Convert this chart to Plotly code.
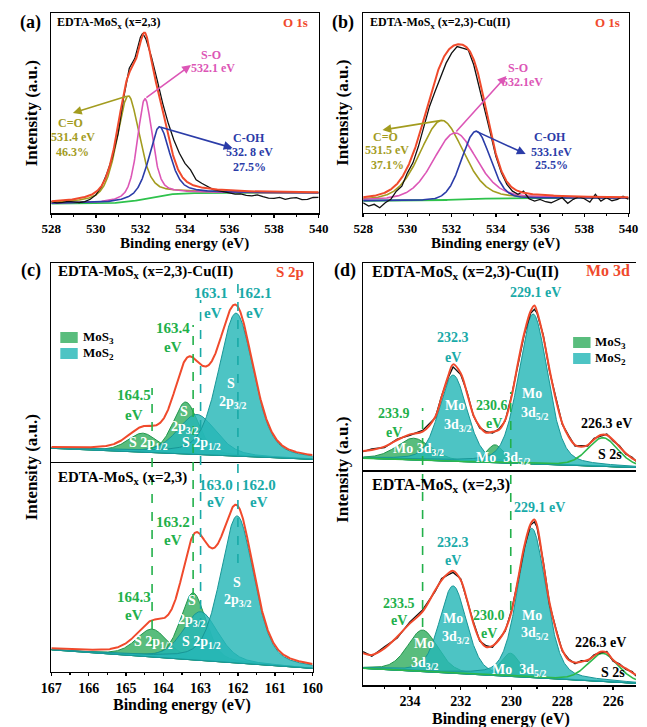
import numpy as np
import plotly.graph_objects as go

W, H = 647, 727
FONT = "Liberation Serif"

# ---------------- DATA ----------------
# (a) O 1s, EDTA-MoSx (x=2,3): fitted components
a_center = [531.45, 532.2, 532.85]      # C=O, S-O, C-OH
a_height = [53.0, 50.0, 34.5]
a_fwhm = [1.2, 0.8, 1.1]
a_eta = [0.5, 0.5, 0.5]
a_bg = [4.8, 10.2, 532.3, 0.55]          # low, high, step centre, step width
a_meas_E = [528.0, 528.25, 528.5, 528.75, 529.0, 529.25, 529.5, 529.75, 530.0, 530.25,
            530.5, 530.75, 531.0, 531.25, 531.5, 531.75, 532.0, 532.1, 532.25, 532.5,
            532.75, 533.0, 533.25, 533.5, 533.75, 534.0, 534.25, 534.5, 534.75, 535.0,
            535.25, 535.5, 535.75, 536.0, 536.25, 536.5, 536.75, 537.0, 537.25, 537.5,
            537.75, 538.0, 538.25, 538.5, 538.75, 539.0, 539.25, 539.5, 539.75, 540.0]
a_meas_I = [5.8, 5.2, 5.5, 6.0, 5.7, 5.4, 5.8, 7.0, 9.2, 13.3,
            20.0, 28.3, 40.0, 58.0, 72.5, 77.5, 88.0, 90.0, 87.0, 78.0,
            66.7, 55.0, 45.0, 36.7, 30.0, 25.0, 21.7, 16.7, 15.0, 13.3,
            12.0, 11.3, 10.8, 10.3, 9.6, 9.7, 9.0, 8.7, 9.2, 8.3,
            7.6, 7.5, 8.0, 7.0, 7.6, 7.8, 6.8, 7.0, 7.9, 8.0]

# (b) O 1s, EDTA-MoSx (x=2,3)-Cu(II)
b_center = [531.55, 532.15, 533.1]
b_height = [40.0, 33.5, 34.0]
b_fwhm = [2.3, 2.3, 1.5]
b_eta = [0.25, 0.3, 0.1]
b_bg = [6.0, 7.3, 532.5, 0.8]
b_meas_E = [528.0, 528.25, 528.5, 528.75, 529.0, 529.25, 529.5, 529.75, 530.0, 530.25,
            530.5, 530.75, 531.0, 531.25, 531.5, 531.75, 532.0, 532.25, 532.5, 532.75,
            533.0, 533.25, 533.5, 533.75, 534.0, 534.25, 534.5, 534.75, 535.0, 535.25,
            535.5, 535.75, 536.0, 536.25, 536.5, 536.75, 537.0, 537.25, 537.5, 537.75,
            538.0, 538.25, 538.5, 538.75, 539.0, 539.25, 539.5, 539.75, 540.0]
b_meas_I = [5.0, 3.3, 4.2, 2.5, 5.0, 6.7, 10.8, 13.3, 20.0, 25.0,
            33.3, 43.3, 53.3, 60.8, 67.5, 75.0, 80.0, 83.3, 82.5, 81.7,
            74.2, 63.3, 51.7, 40.0, 28.3, 20.0, 14.2, 10.8, 9.2, 10.8,
            7.0, 5.8, 6.7, 5.5, 5.0, 6.2, 7.5, 4.7, 6.7, 8.0,
            7.0, 5.3, 9.2, 5.8, 7.5, 6.0, 6.7, 8.3, 6.7]

# (c) S 2p  (baseline values at 167 eV and 160 eV)
c_up_base = [7.5, 2.0]
c_up_mos3_center = [164.55, 163.4]
c_up_mos3_height = [9.5, 26.0]
c_up_mos3_fwhm = [0.95, 0.8]
c_up_mos2_center = [163.1, 162.05]
c_up_mos2_height = [20.0, 71.5]
c_up_mos2_fwhm = [1.2, 1.1]
c_lo_base = [10.5, 1.6]
c_lo_mos3_center = [164.3, 163.2]
c_lo_mos3_height = [13.4, 32.2]
c_lo_mos3_fwhm = [1.0, 0.8]
c_lo_mos2_center = [163.0, 162.02]
c_lo_mos2_height = [23.4, 70.6]
c_lo_mos2_fwhm = [1.1, 1.05]
c_eta = 0.35

# (d) Mo 3d (baseline values at left and right ends)
d_up_base = [6.5, 2.0]
d_up_mos3_center = [233.85, 230.65]
d_up_mos3_height = [10.4, 8.6]
d_up_mos3_fwhm = [1.6, 0.8]
d_up_mos2_center = [232.3, 229.15]
d_up_mos2_height = [41.4, 72.0]
d_up_mos2_fwhm = [1.3, 1.35]
d_up_s2s = [226.4, 13.8, 1.4]
d_lo_base = [7.8, 0.8]
d_lo_mos3_center = [233.5, 230.05]
d_lo_mos3_height = [19.5, 10.9]
d_lo_mos3_fwhm = [1.4, 0.9]
d_lo_mos2_center = [232.3, 229.2]
d_lo_mos2_height = [41.0, 70.0]
d_lo_mos2_fwhm = [1.25, 1.3]
d_lo_s2s = [226.4, 13.2, 1.4]
d_eta = 0.3
d_E = [235.85, 235.5, 235.0, 234.5, 234.0, 233.5, 233.0, 232.75, 232.5, 232.3,
       232.0, 231.75, 231.5, 231.25, 231.0, 230.75, 230.5, 230.25, 230.0, 229.75,
       229.5, 229.25, 229.1, 229.0, 228.75, 228.5, 228.25, 228.0, 227.75, 227.5,
       227.25, 227.0, 226.75, 226.5, 226.25, 226.0, 225.75, 225.5, 225.25, 225.1]
d_up_fit = [9.9, 10.4, 12.0, 15.2, 17.9, 19.2, 26.4, 35.9, 45.6, 51.5,
            47.2, 37.6, 27.2, 21.6, 18.7, 19.2, 20.0, 24.8, 35.9, 52.0,
            66.4, 77.0, 79.8, 77.0, 64.8, 48.8, 34.4, 23.2, 16.8, 12.8,
            12.0, 12.8, 15.5, 17.6, 17.6, 15.2, 12.0, 8.8, 6.4, 5.3]
d_up_meas = [9.6, 10.9, 11.6, 15.6, 17.5, 19.8, 25.9, 36.4, 45.0, 50.3,
             46.6, 38.2, 26.8, 21.0, 19.2, 18.6, 20.4, 24.3, 36.4, 51.4,
             65.8, 76.0, 77.9, 76.2, 65.5, 48.0, 34.9, 22.7, 17.3, 12.3,
             12.5, 12.3, 16.0, 17.0, 18.1, 14.7, 12.4, 8.4, 6.9, 5.0]
d_lo_fit = [14.9, 14.1, 17.2, 22.6, 28.9, 34.4, 44.5, 49.2, 52.3, 53.5,
            49.2, 39.8, 28.9, 21.1, 17.8, 18.3, 21.1, 25.8, 34.4, 49.2,
            64.9, 75.5, 77.6, 75.0, 57.1, 38.3, 25.8, 16.4, 11.7, 10.5,
            10.9, 11.7, 13.6, 15.6, 15.2, 11.7, 9.4, 7.8, 5.8, 4.7]
d_lo_meas = [15.6, 13.5, 17.9, 22.0, 29.6, 35.2, 44.0, 49.9, 51.6, 52.8,
             49.8, 39.2, 29.5, 20.6, 18.4, 17.7, 21.6, 25.2, 35.0, 48.6,
             64.2, 75.0, 76.5, 74.2, 57.8, 37.7, 26.3, 15.9, 12.2, 10.0,
             11.4, 11.2, 14.1, 15.1, 15.7, 11.2, 9.9, 7.3, 6.3, 4.2]

# ---------------- STYLE ----------------
RED = "#f04a2c"
OLIVE = "#a39c1f"
MAGENTA = "#dc56b6"
BLUE = "#2b3ca8"
BGGREEN = "#2ec24c"
G_FILL = "rgba(48,172,92,0.80)"
G_LINE = "rgb(34,150,76)"
T_FILL = "rgba(38,183,183,0.82)"
T_LINE = "rgb(24,150,150)"
G_TXT = "#22b04a"
T_TXT = "#19aaa8"

# panel frames in pixels: x0, x1, y0(top), y1(bottom), xrange
P = {
    "a": (42.7, 319.0, 13.3, 213.3, [528, 540]),
    "b": (365.0, 639.3, 13.3, 212.7, [528, 540]),
    "c1": (42.7, 312.7, 263.3, 463.3, [167, 160]),
    "c2": (42.7, 312.7, 463.3, 671.7, [167, 160]),
    "d1": (365.0, 647.0, 263.3, 471.7, [235.84, 225.1]),
    "d2": (365.0, 647.0, 471.7, 685.0, [235.84, 225.1]),
}
AX = {"a": ("x", "y"), "b": ("x2", "y2"), "c1": ("x3", "y3"),
      "c2": ("x4", "y4"), "d1": ("x5", "y5"), "d2": ("x6", "y6")}


def pv(E, c, h, w, eta):
    u = (E - c) / w
    return h * ((1 - eta) * np.exp(-4 * np.log(2) * u * u) + eta / (1 + 4 * u * u))


def step_bg(E, p):
    lo, hi, c, w = p
    return lo + (hi - lo) / (1 + np.exp(-(E - c) / w))


def lin_base(E, rng, vals):
    return vals[1] + (vals[0] - vals[1]) * (E - rng[1]) / (rng[0] - rng[1])


def px2data(key, px, py):
    x0, x1, y0, y1, r = P[key]
    return r[0] + (px - x0) / (x1 - x0) * (r[1] - r[0]), (y1 - py) / (y1 - y0) * 100


fig = go.Figure()


def line(key, x, y, color, width, shape="linear", dash=None):
    xa, ya = AX[key]
    fig.add_trace(go.Scatter(x=x, y=y, mode="lines", xaxis=xa, yaxis=ya,
                             line=dict(color=color, width=width, shape=shape, dash=dash),
                             hoverinfo="skip"))


def filled(key, E, top, base, fc, lc):
    xa, ya = AX[key]
    fig.add_trace(go.Scatter(x=np.concatenate([E, E[::-1]]),
                             y=np.concatenate([top, base[::-1]]),
                             mode="lines", fill="toself", fillcolor=fc,
                             line=dict(color=lc, width=1), xaxis=xa, yaxis=ya,
                             hoverinfo="skip"))


# ---- O 1s panels ----
def o1s(key, cen, hei, fw, eta, bgp, mE, mI):
    r = P[key][4]
    E = np.linspace(r[0], r[1], 700)
    bg = step_bg(E, bgp)
    comps = [pv(E, c, h, w, e) for c, h, w, e in zip(cen, hei, fw, eta)]
    line(key, E, bg, BGGREEN, 1.8)
    for comp, col in zip(comps, [OLIVE, MAGENTA, BLUE]):
        line(key, E, bg + comp, col, 1.6)
    line(key, mE, mI, "#111111", 1.3)
    line(key, E, bg + sum(comps), RED, 2.0)


o1s("a", a_center, a_height, a_fwhm, a_eta, a_bg, a_meas_E, a_meas_I)
o1s("b", b_center, b_height, b_fwhm, b_eta, b_bg, b_meas_E, b_meas_I)


# ---- S 2p panels ----
def s2p(key, base_v, c3, h3, w3, c2, h2, w2):
    r = P[key][4]
    E = np.linspace(r[0], r[1], 700)
    base = lin_base(E, r, base_v)
    total = base.copy()
    for c, h, w in zip(c3, h3, w3):
        comp = pv(E, c, h, w, c_eta)
        filled(key, E, base + comp, base, G_FILL, G_LINE)
        total = total + comp
    for c, h, w in zip(c2, h2, w2):
        comp = pv(E, c, h, w, c_eta)
        filled(key, E, base + comp, base, T_FILL, T_LINE)
        total = total + comp
    line(key, E, total, RED, 2.0)


s2p("c1", c_up_base, c_up_mos3_center, c_up_mos3_height, c_up_mos3_fwhm,
    c_up_mos2_center, c_up_mos2_height, c_up_mos2_fwhm)
s2p("c2", c_lo_base, c_lo_mos3_center, c_lo_mos3_height, c_lo_mos3_fwhm,
    c_lo_mos2_center, c_lo_mos2_height, c_lo_mos2_fwhm)


# ---- Mo 3d panels ----
def mo3d(key, base_v, c3, h3, w3, c2, h2, w2, s2s, meas, fit):
    r = P[key][4]
    E = np.linspace(r[0], r[1], 700)
    base = lin_base(E, r, base_v)
    for c, h, w in zip(c3, h3, w3):
        filled(key, E, base + pv(E, c, h, w, d_eta), base, G_FILL, G_LINE)
    for c, h, w in zip(c2, h2, w2):
        filled(key, E, base + pv(E, c, h, w, d_eta), base, T_FILL, T_LINE)
    line(key, E, base + pv(E, s2s[0], s2s[1], s2s[2], d_eta), "#2db84a", 1.6)
    line(key, d_E, meas, "#111111", 1.4)
    line(key, d_E, fit, RED, 2.0, shape="spline")


mo3d("d1", d_up_base, d_up_mos3_center, d_up_mos3_height, d_up_mos3_fwhm,
     d_up_mos2_center, d_up_mos2_height, d_up_mos2_fwhm, d_up_s2s, d_up_meas, d_up_fit)
mo3d("d2", d_lo_base, d_lo_mos3_center, d_lo_mos3_height, d_lo_mos3_fwhm,
     d_lo_mos2_center, d_lo_mos2_height, d_lo_mos2_fwhm, d_lo_s2s, d_lo_meas, d_lo_fit)

# ---------------- AXES ----------------
TICKS = {"a": (2, 528, 1), "b": (2, 528, 1), "c2": (1, 160, 0.5), "d2": (2, 226, 1)}
layout_axes = {}
for key, (x0, x1, y0, y1, r) in P.items():
    xa, ya = AX[key]
    xname = "xaxis" + xa[1:]
    yname = "yaxis" + ya[1:]
    labels = key in TICKS
    upper = key in ("c1", "d1")
    xd = dict(domain=[x0 / W, min(x1 / W, 1.0)], range=r, anchor=ya,
              showline=True, linecolor="black", linewidth=1.5,
              mirror=not upper, side="top" if upper else "bottom",
              showgrid=False, zeroline=False, fixedrange=True,
              showticklabels=labels, ticks="outside" if labels else "")
    if labels:
        dt, t0, mdt = TICKS[key]
        xd.update(dtick=dt, tick0=t0, ticklen=3, tickwidth=1.5, tickcolor="black",
                  tickfont=dict(family=FONT, size=13 if key in ("a", "b") else 14,
                                color="black", weight="bold"),
                  minor=dict(ticks="outside", dtick=mdt, tick0=t0, ticklen=2,
                             tickwidth=1.2, tickcolor="black"))
    yd = dict(domain=[1 - y1 / H, 1 - y0 / H], range=[0, 100], anchor=xa,
              showline=True, linecolor="black", linewidth=1.5,
              mirror=not key.startswith("d"),
              showgrid=False, zeroline=False, showticklabels=False, ticks="",
              fixedrange=True)
    layout_axes[xname] = xd
    layout_axes[yname] = yd

# ---------------- TEXT ----------------
ann = []


def txt(px, py, s, color="black", size=12, xanchor="center", angle=0):
    ann.append(dict(x=px / W, y=1 - py / H, xref="paper", yref="paper", text=s,
                    showarrow=False, xanchor=xanchor, yanchor="middle", textangle=angle,
                    font=dict(family=FONT, size=size, color=color, weight="bold")))


def arrow(key, head_px, tail_E, tail_v, color):
    xa, ya = AX[key]
    hx, hy = px2data(key, *head_px)
    ann.append(dict(x=hx, y=hy, xref=xa, yref=ya, ax=tail_E, ay=tail_v,
                    axref=xa, ayref=ya, text="", showarrow=True, arrowhead=2,
                    arrowsize=1.1, arrowwidth=1.6, arrowcolor=color,
                    standoff=0, startstandoff=0))


# panel letters
for s, x, y in [("(a)", 21, 22), ("(b)", 344, 22), ("(c)", 22, 270), ("(d)", 346, 270)]:
    txt(x, y, s, size=18)

# axis titles
for x, y in [(22, 113), (343, 113), (22, 467), (343, 470)]:
    txt(x, y, "Intensity (a.u.)", size=17, angle=-90)
for x, y in [(180, 244), (502, 244)]:
    txt(x, y, "Binding energy (eV)", size=15)
for x, y in [(178, 705), (507, 719)]:
    txt(x, y, "Binding energy (eV)", size=16)

# (a)
OS = 12
txt(47, 23, "EDTA-MoS<sub>x</sub> (x=2,3)", size=12, xanchor="left")
txt(310, 23, "O 1s", RED, 13, xanchor="right")
txt(208, 55, "S-O", MAGENTA, OS)
txt(210, 68, "532.1 eV", MAGENTA, OS)
txt(63, 123, "C=O", OLIVE, OS)
txt(65, 137, "531.4 eV", OLIVE, OS)
txt(65, 152, "46.3%", OLIVE, OS)
txt(247, 138, "C-OH", BLUE, OS)
txt(248, 152, "532. 8 eV", BLUE, OS)
txt(248, 167, "27.5%", BLUE, OS)
a_bgfun = lambda e: step_bg(np.array(e), a_bg)
arrow("a", (187, 65), a_center[1], float(a_bgfun(a_center[1])) + a_height[1], MAGENTA)
arrow("a", (65, 113), a_center[0], float(a_bgfun(a_center[0])) + a_height[0], OLIVE)
arrow("a", (230, 148), a_center[2], float(a_bgfun(a_center[2])) + a_height[2], BLUE)

# (b)
txt(370, 23, "EDTA-MoS<sub>x</sub> (x=2,3)-Cu(II)", size=12, xanchor="left")
txt(633, 23, "O 1s", RED, 13, xanchor="right")
txt(525, 68, "S-O", MAGENTA, OS)
txt(530, 82, "532.1eV", MAGENTA, OS)
txt(388, 137, "C=O", OLIVE, OS)
txt(390, 150, "531.5 eV", OLIVE, OS)
txt(390, 165, "37.1%", OLIVE, OS)
txt(558, 137, "C-OH", BLUE, OS)
txt(560, 152, "533.1eV", BLUE, OS)
txt(560, 165, "25.5%", BLUE, OS)
b_bgfun = lambda e: step_bg(np.array(e), b_bg)
arrow("b", (513, 76), b_center[1], float(b_bgfun(b_center[1])) + b_height[1], MAGENTA)
arrow("b", (385, 130), b_center[0], float(b_bgfun(b_center[0])) + b_height[0], OLIVE)
arrow("b", (533, 154), b_center[2], float(b_bgfun(b_center[2])) + b_height[2], BLUE)

# (c) upper
CS = 15
txt(48, 272, "EDTA-MoS<sub>x</sub> (x=2,3)-Cu(II)", size=15, xanchor="left")
txt(306, 272, "S 2p", RED, 15, xanchor="right")
for x, y, s in [(208, 293, "163.1"), (210, 313, "eV"), (253, 293, "162.1"), (253, 313, "eV")]:
    txt(x, y, s, T_TXT, CS)
for x, y, s in [(168, 328, "163.4"), (168, 347, "eV"), (128, 395, "164.5"), (128, 415, "eV")]:
    txt(x, y, s, G_TXT, CS)
txt(228, 383, "S", "white", 14)
txt(230, 402, "2p<sub>3/2</sub>", "white", 14)
txt(180, 411, "S", "white", 14)
txt(180, 428, "2p<sub>3/2</sub>", "white", 14)
txt(143, 443, "S 2p<sub>1/2</sub>", "white", 14)
txt(198, 443, "S 2p<sub>1/2</sub>", "white", 14)
# (c) lower
txt(48, 478, "EDTA-MoS<sub>x</sub> (x=2,3)", size=15, xanchor="left")
for x, y, s in [(213, 485, "163.0"), (213, 502, "eV"), (257, 485, "162.0"), (257, 502, "eV")]:
    txt(x, y, s, T_TXT, CS)
for x, y, s in [(168, 522, "163.2"), (168, 540, "eV"), (128, 597, "164.3"), (128, 615, "eV")]:
    txt(x, y, s, G_TXT, CS)
txt(235, 582, "S", "white", 14)
txt(235, 600, "2p<sub>3/2</sub>", "white", 14)
txt(188, 600, "S", "white", 14)
txt(188, 620, "2p<sub>3/2</sub>", "white", 14)
txt(148, 642, "S 2p<sub>1/2</sub>", "white", 14)
txt(198, 642, "S 2p<sub>1/2</sub>", "white", 14)

# (d) upper
DS = 14
txt(372, 272, "EDTA-MoS<sub>x</sub> (x=2,3)-Cu(II)", size=16, xanchor="left")
txt(643, 271, "Mo 3d", RED, 16, xanchor="right")
txt(543, 293, "229.1 eV", T_TXT, DS)
txt(458, 338, "232.3", T_TXT, DS)
txt(458, 357, "eV", T_TXT, DS)
txt(397, 413, "233.9", G_TXT, DS)
txt(397, 432, "eV", G_TXT, DS)
txt(498, 405, "230.6", G_TXT, DS)
txt(500, 423, "eV", G_TXT, DS)
txt(460, 405, "Mo", "white", DS)
txt(462, 425, "3d<sub>3/2</sub>", "white", DS)
txt(540, 393, "Mo", "white", DS)
txt(542, 413, "3d<sub>5/2</sub>", "white", DS)
txt(422, 450, "Mo 3d<sub>3/2</sub>", "white", DS)
txt(510, 458, "Mo  3d<sub>5/2</sub>", "white", DS)
txt(617, 423, "226.3 eV", "black", DS)
txt(620, 454, "S 2s", "black", DS)
# (d) lower
txt(372, 485, "EDTA-MoS<sub>x</sub> (x=2,3)", size=16, xanchor="left")
txt(547, 508, "229.1 eV", T_TXT, DS)
txt(458, 542, "232.3", T_TXT, DS)
txt(458, 560, "eV", T_TXT, DS)
txt(402, 603, "233.5", G_TXT, DS)
txt(402, 620, "eV", G_TXT, DS)
txt(495, 615, "230.0", G_TXT, DS)
txt(495, 633, "eV", G_TXT, DS)
txt(428, 643, "Mo", "white", DS)
txt(428, 663, "3d<sub>3/2</sub>", "white", DS)
txt(458, 618, "Mo", "white", DS)
txt(460, 637, "3d<sub>3/2</sub>", "white", DS)
txt(540, 615, "Mo", "white", DS)
txt(542, 633, "3d<sub>5/2</sub>", "white", DS)
txt(527, 670, "Mo  3d<sub>5/2</sub>", "white", DS)
txt(610, 642, "226.3 eV", "black", DS)
txt(623, 672, "S 2s", "black", DS)

# legends
shapes = []
for bx, by, col, lab in [(52, 332, G_FILL, "MoS<sub>3</sub>"), (52, 348, T_FILL, "MoS<sub>2</sub>"),
                         (582, 337, G_FILL, "MoS<sub>3</sub>"), (582, 353, T_FILL, "MoS<sub>2</sub>")]:
    shapes.append(dict(type="rect", xref="paper", yref="paper",
                       x0=bx / W, x1=(bx + 18) / W, y0=1 - (by + 11) / H, y1=1 - by / H,
                       fillcolor=col, line=dict(width=0)))
    txt(bx + 21, by + 5.5, lab, "black", 13, xanchor="left")

# dashed guide lines (x in data, y in page pixels)
for xa, e, top, bot, col in [("x4", 164.3, 388, 647, G_TXT), ("x4", 163.2, 325, 597, G_TXT),
                             ("x4", 163.0, 300, 627, T_TXT), ("x4", 162.0, 283, 563, T_TXT),
                             ("x6", 233.5, 408, 627, G_TXT), ("x6", 230.03, 392, 610, G_TXT)]:
    shapes.append(dict(type="line", xref=xa, yref="paper", x0=e, x1=e,
                       y0=1 - bot / H, y1=1 - top / H,
                       line=dict(color=col, width=1.6, dash="dash")))

fig.update_layout(width=W, height=H, margin=dict(l=0, r=0, t=0, b=0),
                  paper_bgcolor="white", plot_bgcolor="white", showlegend=False,
                  annotations=ann, shapes=shapes, **layout_axes)

fig.write_html(
    "out.html",
    config={"displayModeBar": False, "staticPlot": True},
    post_script=("document.body.style.margin='0';document.body.style.padding='0';"
                 "document.body.style.overflow='hidden';"
                 "document.documentElement.style.overflow='hidden';"),
)
